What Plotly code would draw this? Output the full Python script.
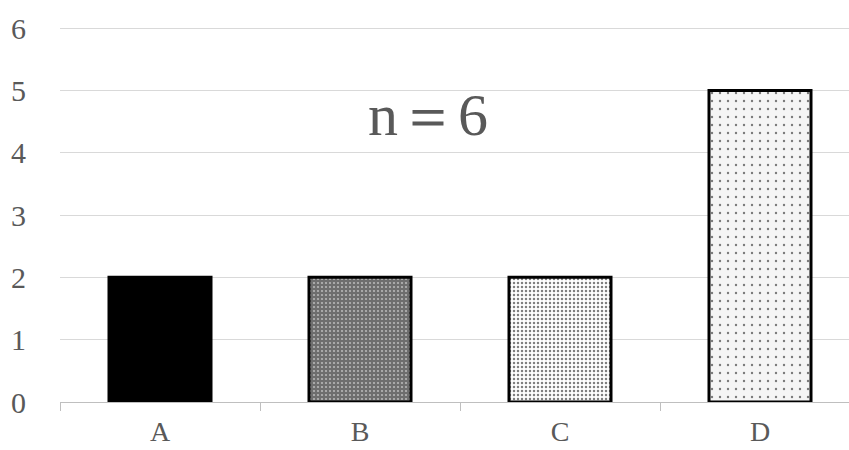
import plotly.graph_objects as go

categories = ["A", "B", "C", "D"]
values = [2, 2, 2, 5]
y_ticks = [0, 1, 2, 3, 4, 5, 6]
annotation_text = "n＝6"

styles = [
    dict(shape="", bg="#000000", fg="#000000", size=6, solidity=0.2),
    dict(shape=".", bg="#6e6e6e", fg="#ffffff", size=4, solidity=0.22),
    dict(shape=".", bg="#ffffff", fg="#000000", size=4, solidity=0.3),
    dict(shape=".", bg="#f5f5f5", fg="#000000", size=8, solidity=0.07),
]

fig = go.Figure()
for cat, val, st in zip(categories, values, styles):
    fig.add_trace(go.Bar(
        x=[cat], y=[val], width=0.51,
        marker=dict(
            color=st["bg"],
            line=dict(color="#000000", width=3),
            pattern=dict(shape=st["shape"], fgcolor=st["fg"], bgcolor=st["bg"],
                         size=st["size"], solidity=st["solidity"], fillmode="overlay"),
        ),
        showlegend=False,
    ))

fig.add_annotation(
    x=1.34, y=4.6, xref="x", yref="y",
    text=annotation_text, showarrow=False,
    font=dict(family="Liberation Serif", size=60, color="#595959"),
)

fig.update_layout(
    width=849, height=450,
    margin=dict(l=60, r=0, t=25, b=48),
    plot_bgcolor="#ffffff", paper_bgcolor="#ffffff",
    barmode="overlay",
)
fig.update_xaxes(
    range=[-0.5, -0.5 + 789 / 200],
    showgrid=False,
    showline=True, linecolor="#bfbfbf", linewidth=1,
    ticks="outside", tickson="boundaries", ticklen=8, tickcolor="#bfbfbf",
    tickfont=dict(family="Liberation Serif", size=28, color="#595959"),
    ticklabelstandoff=4,
    zeroline=False,
)
fig.update_yaxes(
    range=[0, 6.05],
    tickvals=y_ticks,
    showgrid=True, gridcolor="#d9d9d9", gridwidth=1,
    zeroline=False, showline=False,
    tickfont=dict(family="Liberation Serif", size=30, color="#595959"),
    ticklabelstandoff=33,
)

fig.write_html("out.html")
